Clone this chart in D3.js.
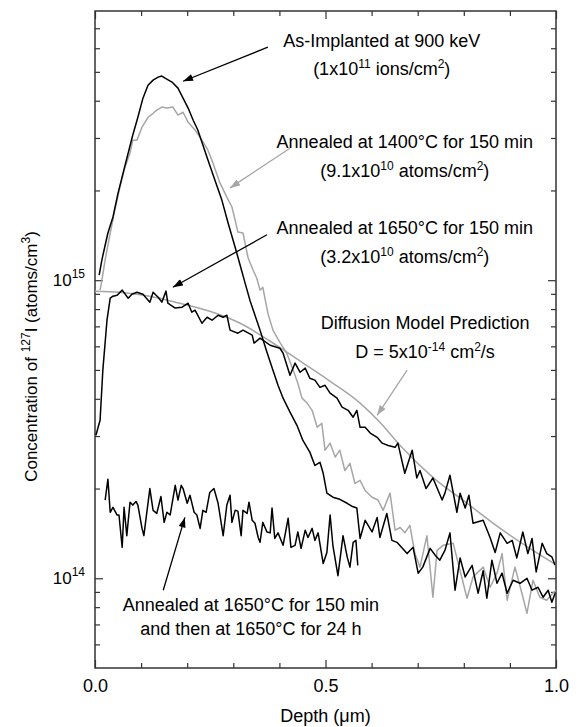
<!DOCTYPE html>
<html>
<head>
<meta charset="utf-8">
<script src="https://cdn.jsdelivr.net/npm/d3@7"></script>
<style>
  body { margin: 0; background: #fff; }
  svg text { font-family: "Liberation Sans", Arial, Helvetica, sans-serif; font-size: 18px; fill: #000; }
</style>
</head>
<body>
<div class="chart"></div>
<script>
// depth (um), concentration of 127I (atoms/cm^3)
const asImplanted = [
  [0.009, 1.04e15], [0.015, 1.17e15], [0.022, 1.31e15], [0.028, 1.44e15], [0.039, 1.63e15],
  [0.050, 1.96e15], [0.061, 2.29e15], [0.072, 2.67e15], [0.082, 3.07e15], [0.093, 3.52e15],
  [0.104, 4.08e15], [0.115, 4.51e15], [0.126, 4.69e15], [0.137, 4.80e15], [0.145, 4.84e15],
  [0.152, 4.76e15], [0.167, 4.62e15], [0.180, 4.41e15], [0.191, 4.08e15], [0.202, 3.78e15],
  [0.213, 3.44e15], [0.223, 3.19e15], [0.232, 2.90e15], [0.245, 2.53e15], [0.260, 2.17e15],
  [0.275, 1.86e15], [0.289, 1.55e15], [0.304, 1.29e15], [0.315, 1.12e15], [0.325, 9.85e14],
  [0.336, 8.57e14], [0.347, 7.63e14], [0.358, 6.80e14], [0.373, 5.73e14], [0.386, 4.99e14],
  [0.397, 4.44e14], [0.408, 4.02e14], [0.423, 3.61e14], [0.438, 3.26e14], [0.451, 2.90e14],
  [0.466, 2.65e14], [0.477, 2.39e14], [0.488, 2.45e14], [0.495, 2.25e14], [0.503, 1.93e14],
  [0.516, 1.87e14], [0.531, 1.84e14], [0.547, 1.785e14], [0.557, 1.745e14], [0.568, 1.72e14],
  [0.575, 1.36e14], [0.586, 1.565e14], [0.601, 1.43e14], [0.612, 1.60e14], [0.618, 1.37e14],
  [0.633, 1.65e14], [0.644, 1.34e14], [0.655, 1.32e14], [0.677, 1.21e14], [0.690, 1.27e14],
  [0.701, 1.04e14], [0.711, 1.09e14], [0.727, 1.26e14], [0.738, 1.195e14], [0.748, 1.15e14],
  [0.759, 1.24e14], [0.770, 1.42e14], [0.781, 9.12e13], [0.792, 1.17e14], [0.803, 1.01e14],
  [0.818, 1.105e14], [0.831, 8.91e13], [0.842, 1.06e14], [0.850, 8.57e13], [0.861, 1.15e14],
  [0.872, 9.62e13], [0.883, 1.04e14], [0.894, 8.91e13], [0.907, 9.85e13], [0.922, 9.62e13],
  [0.937, 1.00e14], [0.948, 9.12e13], [0.961, 9.33e13], [0.972, 8.64e13], [0.983, 9.12e13],
  [0.991, 8.31e13], [0.998, 8.91e13]
];

const annealed1400 = [
  [0.011, 9.26e14], [0.015, 1.00e15], [0.022, 1.17e15], [0.033, 1.44e15], [0.043, 1.72e15],
  [0.054, 2.05e15], [0.065, 2.39e15], [0.076, 2.67e15], [0.082, 2.95e15], [0.091, 2.95e15],
  [0.102, 3.26e15], [0.115, 3.52e15], [0.126, 3.63e15], [0.134, 3.72e15], [0.145, 3.81e15],
  [0.156, 3.78e15], [0.169, 3.81e15], [0.180, 3.58e15], [0.191, 3.66e15], [0.202, 3.39e15],
  [0.217, 3.19e15], [0.232, 2.95e15], [0.245, 2.73e15], [0.256, 2.47e15], [0.271, 2.12e15],
  [0.286, 1.90e15], [0.297, 1.76e15], [0.304, 1.59e15], [0.310, 1.45e15], [0.321, 1.44e15],
  [0.332, 1.19e15], [0.343, 1.08e15], [0.351, 1.015e15], [0.358, 9.26e14], [0.364, 9.47e14],
  [0.375, 7.75e14], [0.386, 6.80e14], [0.401, 6.19e14], [0.416, 5.69e14], [0.430, 4.99e14],
  [0.440, 4.51e14], [0.449, 4.02e14], [0.460, 3.87e14], [0.471, 3.66e14], [0.482, 3.21e14],
  [0.492, 3.31e14], [0.499, 2.69e14], [0.510, 2.84e14], [0.521, 2.55e14], [0.531, 2.69e14],
  [0.542, 2.30e14], [0.553, 2.43e14], [0.564, 2.08e14], [0.575, 2.13e14], [0.586, 1.97e14],
  [0.601, 1.87e14], [0.614, 1.83e14], [0.625, 1.69e14], [0.640, 1.93e14], [0.651, 1.45e14],
  [0.662, 1.48e14], [0.672, 1.42e14], [0.683, 1.505e14], [0.694, 1.21e14], [0.705, 1.09e14],
  [0.720, 1.39e14], [0.733, 8.64e13], [0.742, 1.24e14], [0.755, 1.29e14], [0.777, 1.31e14],
  [0.792, 1.06e14], [0.807, 8.57e13], [0.820, 1.01e14], [0.842, 1.09e14], [0.857, 9.33e13],
  [0.872, 1.04e14], [0.883, 1.21e14], [0.894, 8.44e13], [0.911, 1.09e14], [0.926, 8.91e13],
  [0.937, 7.63e13], [0.950, 9.85e13], [0.965, 8.64e13], [0.980, 8.44e13], [0.993, 8.91e13],
  [1.000, 9.12e13]
];

const annealed1650 = [
  [0.002, 3.02e14], [0.011, 3.39e14], [0.017, 4.99e14], [0.026, 7.34e14], [0.033, 8.70e14],
  [0.039, 8.84e14], [0.048, 8.90e14], [0.059, 9.26e14], [0.072, 8.70e14], [0.080, 8.97e14],
  [0.091, 9.11e14], [0.104, 8.97e14], [0.119, 8.44e14], [0.126, 9.11e14], [0.137, 8.77e14],
  [0.145, 8.44e14], [0.154, 9.19e14], [0.158, 8.37e14], [0.174, 8.06e14], [0.189, 8.12e14],
  [0.202, 8.37e14], [0.210, 7.81e14], [0.217, 7.93e14], [0.232, 7.17e14], [0.243, 7.51e14],
  [0.254, 7.34e14], [0.267, 7.63e14], [0.278, 7.51e14], [0.286, 7.63e14], [0.293, 6.80e14],
  [0.310, 6.64e14], [0.321, 6.80e14], [0.341, 6.54e14], [0.345, 6.15e14], [0.358, 6.39e14],
  [0.380, 6.05e14], [0.401, 5.91e14], [0.408, 5.69e14], [0.423, 4.80e14], [0.434, 5.27e14],
  [0.445, 4.91e14], [0.456, 5.07e14], [0.466, 4.69e14], [0.477, 4.62e14], [0.488, 4.37e14],
  [0.499, 4.44e14], [0.510, 4.18e14], [0.525, 4.02e14], [0.536, 3.75e14], [0.549, 3.66e14],
  [0.560, 3.47e14], [0.568, 3.66e14], [0.575, 3.21e14], [0.586, 3.21e14], [0.597, 3.07e14],
  [0.612, 2.97e14], [0.623, 2.84e14], [0.636, 2.79e14], [0.651, 2.75e14], [0.657, 2.84e14],
  [0.672, 2.25e14], [0.688, 2.69e14], [0.698, 2.17e14], [0.705, 2.30e14], [0.718, 2.00e14],
  [0.733, 2.17e14], [0.753, 1.83e14], [0.759, 1.93e14], [0.770, 2.215e14], [0.785, 1.665e14],
  [0.792, 1.93e14], [0.803, 1.72e14], [0.811, 1.90e14], [0.820, 1.53e14], [0.842, 1.565e14],
  [0.857, 1.37e14], [0.868, 1.22e14], [0.879, 1.42e14], [0.894, 1.31e14], [0.905, 1.34e14],
  [0.915, 1.17e14], [0.928, 1.43e14], [0.939, 1.21e14], [0.948, 1.36e14], [0.957, 1.05e14],
  [0.970, 1.31e14], [0.980, 1.21e14], [0.991, 1.18e14], [0.998, 1.105e14]
];

const annealed24h = [
  [0.022, 1.83e14], [0.028, 2.15e14], [0.033, 1.665e14], [0.039, 1.73e14], [0.048, 1.63e14],
  [0.052, 1.63e14], [0.059, 1.27e14], [0.063, 1.73e14], [0.069, 1.39e14], [0.076, 1.80e14],
  [0.082, 1.76e14], [0.089, 1.81e14], [0.093, 1.76e14], [0.102, 1.47e14], [0.106, 1.39e14],
  [0.119, 2.00e14], [0.126, 1.69e14], [0.134, 1.65e14], [0.143, 1.88e14], [0.150, 1.54e14],
  [0.156, 1.665e14], [0.163, 1.63e14], [0.174, 2.05e14], [0.180, 1.83e14], [0.187, 2.05e14],
  [0.191, 2.00e14], [0.200, 1.785e14], [0.206, 1.90e14], [0.215, 1.665e14], [0.221, 1.63e14],
  [0.228, 1.47e14], [0.234, 1.69e14], [0.241, 1.665e14], [0.249, 1.94e14], [0.258, 2.00e14],
  [0.267, 1.785e14], [0.278, 1.39e14], [0.286, 1.76e14], [0.293, 1.90e14], [0.297, 1.54e14],
  [0.304, 1.69e14], [0.310, 1.68e14], [0.317, 1.39e14], [0.321, 1.69e14], [0.330, 1.65e14],
  [0.334, 1.80e14], [0.341, 1.565e14], [0.347, 1.53e14], [0.354, 1.37e14], [0.358, 1.32e14],
  [0.364, 1.54e14], [0.373, 1.43e14], [0.380, 1.42e14], [0.384, 1.72e14], [0.390, 1.36e14],
  [0.397, 1.42e14], [0.408, 1.29e14], [0.419, 1.59e14], [0.425, 1.27e14], [0.434, 1.29e14],
  [0.440, 1.43e14], [0.447, 1.26e14], [0.456, 1.45e14], [0.462, 1.37e14], [0.471, 1.47e14],
  [0.477, 1.34e14], [0.484, 1.42e14], [0.495, 1.12e14], [0.503, 1.22e14], [0.510, 1.63e14],
  [0.516, 1.29e14], [0.527, 1.02e14], [0.538, 1.39e14], [0.547, 1.18e14], [0.553, 1.09e14],
  [0.560, 1.32e14], [0.566, 1.34e14], [0.570, 1.105e14]
];

// D = 5e-14 cm^2/s prediction
const diffusionModel = [
  [0.000, 9.19e14], [0.054, 9.11e14], [0.119, 8.84e14], [0.184, 8.37e14], [0.249, 7.87e14],
  [0.315, 7.17e14], [0.380, 6.24e14], [0.445, 5.35e14], [0.510, 4.58e14], [0.575, 3.87e14],
  [0.618, 3.34e14], [0.662, 2.79e14], [0.733, 2.18e14], [0.807, 1.785e14], [0.879, 1.47e14],
  [0.950, 1.24e14], [1.000, 1.11e14]
];

const xMajor = [0, 0.5, 1.0];
const xMinor = [0.1, 0.2, 0.3, 0.4, 0.6, 0.7, 0.8, 0.9];
const yMajor = [1e14, 1e15];
const yMinor = [6e13, 7e13, 8e13, 9e13, 2e14, 3e14, 4e14, 5e14, 6e14, 7e14, 8e14, 9e14,
  2e15, 3e15, 4e15, 5e15, 6e15, 7e15];

const black = '#000';
const gray = '#a6a6a6';

// annotation blocks: anchor = [depth, conc] of first baseline, text centred on it
const notes = [
  { at: [0.622, 6.05e15], gap: 28, lines: ['As-Implanted at 900 keV', '(1x10^{11} ions/cm^{2})'] },
  { at: [0.672, 2.77e15], gap: 29, lines: ['Annealed at 1400°C for 150 min', '(9.1x10^{10} atoms/cm^{2})'] },
  { at: [0.672, 1.43e15], gap: 29, lines: ['Annealed at 1650°C for 150 min', '(3.2x10^{10} atoms/cm^{2})'] },
  { at: [0.716, 6.85e14], gap: 29, lines: ['Diffusion Model Prediction', 'D = 5x10^{-14} cm^{2}/s'] },
  { at: [0.338, 7.75e13], gap: 24, lines: ['Annealed at 1650°C for 150 min', 'and then at 1650°C for 24 h'] }
];

const arrows = [
  { from: [0.375, 6.05e15], to: [0.191, 4.65e15], color: black },
  { from: [0.423, 2.77e15], to: [0.293, 2.04e15], color: gray },
  { from: [0.373, 1.42e15], to: [0.169, 9.47e14], color: black },
  { from: [0.677, 4.99e14], to: [0.612, 3.52e14], color: gray },
  { from: [0.148, 9.12e13], to: [0.195, 1.60e14], color: black }
];

const width = 580;
const height = 727;
const margin = { top: 11, right: 24, bottom: 59, left: 95 };

const svg = d3.select('.chart')
  .append('svg')
  .attr('width', width)
  .attr('height', height);

const x = d3.scaleLinear()
  .domain([0, 1])
  .range([margin.left, width - margin.right]);

const y = d3.scaleLog()
  .domain([5e13, 8e15])
  .range([height - margin.bottom, margin.top]);

// writes "a^{b}c" as text with superscript tspans
function richText(sel, str) {
  const parts = str.split(/\^\{([^}]*)\}/);
  parts.forEach((p, i) => {
    if (i % 2 === 1) {
      sel.append('tspan').attr('font-size', 12).attr('dy', -7).text(p);
    } else if (p.length) {
      sel.append('tspan').attr('dy', i > 0 ? 7 : 0).text(p);
    }
  });
}

// ticks, all pointing inwards
const axisColor = '#333';
function ticks(axis, values, size, tx, ty) {
  const g = svg.append('g')
    .attr('transform', `translate(${tx},${ty})`)
    .style('color', axisColor)
    .call(axis.tickValues(values).tickSize(-size).tickFormat(''));
  g.select('.domain').remove();
  g.selectAll('line').attr('stroke-width', 1.2);
  return g;
}

const bottom = height - margin.bottom;
const right = width - margin.right;
ticks(d3.axisBottom(x), xMinor, 5, 0, bottom);
ticks(d3.axisBottom(x), xMajor, 8, 0, bottom);
ticks(d3.axisTop(x), xMinor, 5, 0, margin.top);
ticks(d3.axisTop(x), xMajor, 8, 0, margin.top);
ticks(d3.axisLeft(y), yMinor, 5, margin.left, 0);
ticks(d3.axisLeft(y), yMajor, 8, margin.left, 0);
ticks(d3.axisRight(y), yMinor, 5, right, 0);
ticks(d3.axisRight(y), yMajor, 8, right, 0);

// tick labels
const xLabels = svg.append('g')
  .attr('transform', `translate(0,${bottom})`)
  .call(d3.axisBottom(x).tickValues(xMajor).tickSize(0).tickPadding(11).tickFormat(d3.format('.1f')));
xLabels.select('.domain').remove();
xLabels.attr('font-size', null).attr('font-family', null);

const yLabels = svg.append('g')
  .attr('transform', `translate(${margin.left},0)`)
  .call(d3.axisLeft(y).tickValues(yMajor).tickSize(0).tickPadding(10).tickFormat(() => ''));
yLabels.select('.domain').remove();
yLabels.attr('font-size', null).attr('font-family', null);
yLabels.selectAll('.tick text').each(function(d) {
  const t = d3.select(this).style('font-size', '17px');
  t.text('10');
  t.append('tspan').attr('font-size', 12).attr('dy', -8).text(Math.round(Math.log10(d)));
});

// frame
svg.append('rect')
  .attr('x', margin.left)
  .attr('y', margin.top)
  .attr('width', right - margin.left)
  .attr('height', bottom - margin.top)
  .attr('fill', 'none')
  .attr('stroke', axisColor)
  .attr('stroke-width', 1.5);

// axis titles
svg.append('text')
  .attr('x', (margin.left + right) / 2)
  .attr('y', 722)
  .attr('text-anchor', 'middle')
  .text('Depth (μm)');

const yTitle = svg.append('text')
  .attr('transform', `translate(37,${(margin.top + bottom) / 2 + 17}) rotate(-90)`)
  .attr('text-anchor', 'middle')
  .style('font-size', '17px');
richText(yTitle, 'Concentration of ^{127}I (atoms/cm^{3})');

// curves
const line = d3.line()
  .x(d => x(d[0]))
  .y(d => y(d[1]));

const series = [
  { data: annealed1400, color: gray, curve: d3.curveLinear },
  { data: diffusionModel, color: gray, curve: d3.curveMonotoneX },
  { data: asImplanted, color: black, curve: d3.curveLinear },
  { data: annealed1650, color: black, curve: d3.curveLinear },
  { data: annealed24h, color: black, curve: d3.curveLinear }
];

svg.append('g')
  .selectAll('path')
  .data(series)
  .enter()
    .append('path')
    .attr('fill', 'none')
    .attr('stroke', d => d.color)
    .attr('stroke-width', 1.5)
    .attr('stroke-linejoin', 'round')
    .attr('d', d => line.curve(d.curve)(d.data));

// arrows
const defs = svg.append('defs');
[['black', black], ['gray', gray]].forEach(([id, c]) => {
  defs.append('marker')
    .attr('id', 'head-' + id)
    .attr('markerUnits', 'userSpaceOnUse')
    .attr('viewBox', '0 0 10 7')
    .attr('refX', 10)
    .attr('refY', 3.5)
    .attr('markerWidth', 11)
    .attr('markerHeight', 7)
    .attr('orient', 'auto')
    .append('path')
      .attr('d', 'M0,0 L10,3.5 L0,7 Z')
      .attr('fill', c);
});

svg.append('g')
  .selectAll('line')
  .data(arrows)
  .enter()
    .append('line')
    .attr('x1', d => x(d.from[0]))
    .attr('y1', d => y(d.from[1]))
    .attr('x2', d => x(d.to[0]))
    .attr('y2', d => y(d.to[1]))
    .attr('stroke', d => d.color)
    .attr('stroke-width', 1.3)
    .attr('marker-end', d => d.color === black ? 'url(#head-black)' : 'url(#head-gray)');

// annotation text
notes.forEach(n => {
  n.lines.forEach((s, i) => {
    const t = svg.append('text')
      .attr('x', x(n.at[0]))
      .attr('y', y(n.at[1]) + i * n.gap)
      .attr('text-anchor', 'middle');
    richText(t, s);
  });
});
</script>
</body>
</html>
